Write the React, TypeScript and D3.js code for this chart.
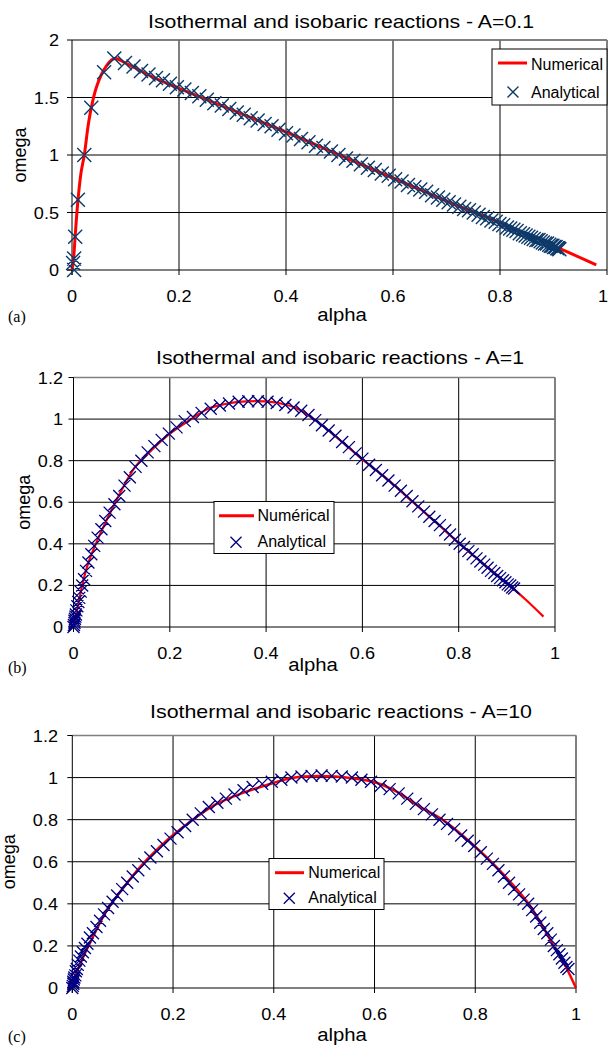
import React from "react";
import * as d3 from "d3";

type P = [number, number];

// ---------- tick values / labels ----------
const xTickValues = [0, 0.2, 0.4, 0.6, 0.8, 1];
const xTickLabels = ["0", "0.2", "0.4", "0.6", "0.8", "1"];
const yTickValuesA = [0, 0.5, 1, 1.5, 2];
const yTickLabelsA = ["0", "0.5", "1", "1.5", "2"];
const yTickValuesBC = [0, 0.2, 0.4, 0.6, 0.8, 1, 1.2];
const yTickLabelsBC = ["0", "0.2", "0.4", "0.6", "0.8", "1", "1.2"];

// ---------- panel (a) A=0.1 ----------
const numericalA: P[] = [
  [0, 0], [0.003, 0.1], [0.006, 0.3], [0.011, 0.6], [0.017, 0.85], [0.023, 1.0],
  [0.03, 1.25], [0.036, 1.41], [0.045, 1.58], [0.055, 1.7], [0.065, 1.78], [0.075, 1.83],
  [0.082, 1.84], [0.1, 1.8], [0.15, 1.68], [0.2, 1.58], [0.3, 1.39], [0.4, 1.2],
  [0.5, 1.0], [0.6, 0.8], [0.7, 0.6], [0.8, 0.41], [0.9, 0.21], [0.98, 0.045],
];
const analyticalA: P[] = [
  [0.004, 0.0], [0.002, 0.06], [0.004, 0.1], [0.006, 0.29], [0.011, 0.61], [0.023, 1.0],
  [0.036, 1.41], [0.06, 1.72], [0.079, 1.84],
  [0.099, 1.8], [0.115, 1.77], [0.129, 1.73], [0.143, 1.7], [0.157, 1.67], [0.17, 1.65],
  [0.183, 1.62], [0.196, 1.59], [0.21, 1.57], [0.224, 1.54], [0.238, 1.51], [0.252, 1.48],
  [0.266, 1.45], [0.28, 1.43], [0.294, 1.4], [0.308, 1.37], [0.321, 1.35], [0.334, 1.32],
  [0.347, 1.3], [0.36, 1.27], [0.373, 1.25], [0.386, 1.22], [0.4, 1.19],
  [0.414, 1.17], [0.428, 1.14], [0.442, 1.11], [0.456, 1.08], [0.47, 1.06], [0.484, 1.03],
  [0.498, 1.0], [0.512, 0.97], [0.526, 0.95], [0.54, 0.92], [0.553, 0.89], [0.566, 0.87],
  [0.579, 0.84], [0.592, 0.82], [0.604, 0.79],
  [0.616, 0.77], [0.628, 0.74], [0.64, 0.72], [0.651, 0.7], [0.662, 0.68], [0.673, 0.65],
  [0.684, 0.63], [0.694, 0.61], [0.704, 0.59], [0.714, 0.57], [0.724, 0.55], [0.733, 0.53],
  [0.742, 0.52], [0.751, 0.5], [0.76, 0.48], [0.768, 0.46], [0.776, 0.45], [0.784, 0.43],
  [0.792, 0.42], [0.799, 0.4],
  [0.806, 0.39], [0.813, 0.37], [0.819, 0.36], [0.825, 0.35], [0.831, 0.34], [0.837, 0.32],
  [0.843, 0.31], [0.848, 0.3], [0.853, 0.29], [0.858, 0.28], [0.863, 0.27], [0.868, 0.26],
  [0.872, 0.26], [0.876, 0.25], [0.88, 0.24], [0.884, 0.23], [0.888, 0.23], [0.892, 0.22],
  [0.895, 0.21], [0.898, 0.21], [0.901, 0.2], [0.904, 0.2], [0.907, 0.19], [0.909, 0.19],
  [0.911, 0.18],
];

// ---------- panel (b) A=1 ----------
const numericalB: P[] = [
  [0, 0], [0.005, 0.06], [0.01, 0.11], [0.02, 0.22], [0.031, 0.31], [0.052, 0.43],
  [0.086, 0.595], [0.128, 0.77], [0.155, 0.835], [0.2, 0.93], [0.238, 0.99], [0.28, 1.05],
  [0.328, 1.078], [0.36, 1.085], [0.397, 1.085], [0.428, 1.076], [0.463, 1.052], [0.505, 0.99],
  [0.553, 0.9], [0.598, 0.81], [0.65, 0.715], [0.705, 0.6], [0.754, 0.5], [0.802, 0.4],
  [0.843, 0.32], [0.9, 0.21], [0.94, 0.13], [0.976, 0.05],
];
const analyticalB: P[] = [
  [0, 0], [0.001, 0.01], [0.002, 0.02], [0.002, 0.03], [0.003, 0.04], [0.004, 0.05],
  [0.005, 0.06], [0.006, 0.08], [0.008, 0.1], [0.01, 0.12], [0.012, 0.14], [0.015, 0.17],
  [0.018, 0.2], [0.022, 0.23], [0.026, 0.27], [0.031, 0.31], [0.037, 0.35], [0.043, 0.39],
  [0.05, 0.43], [0.058, 0.47], [0.066, 0.51], [0.075, 0.55], [0.085, 0.59], [0.095, 0.63],
  [0.106, 0.68], [0.117, 0.72], [0.129, 0.77], [0.141, 0.8], [0.154, 0.84], [0.168, 0.87],
  [0.183, 0.9], [0.198, 0.93], [0.214, 0.96], [0.231, 0.99], [0.248, 1.01], [0.266, 1.03],
  [0.285, 1.05], [0.304, 1.065], [0.323, 1.075], [0.343, 1.083], [0.363, 1.086], [0.383, 1.086],
  [0.403, 1.083], [0.422, 1.077], [0.44, 1.068], [0.457, 1.056], [0.473, 1.04], [0.488, 1.02],
  [0.502, 0.995], [0.516, 0.97], [0.53, 0.945], [0.544, 0.92], [0.558, 0.89], [0.572, 0.865],
  [0.586, 0.835], [0.6, 0.81], [0.614, 0.78], [0.628, 0.755], [0.641, 0.73], [0.654, 0.705],
  [0.667, 0.68], [0.68, 0.655], [0.692, 0.63], [0.704, 0.605], [0.716, 0.58], [0.728, 0.555],
  [0.739, 0.53], [0.75, 0.51], [0.761, 0.49], [0.772, 0.465], [0.782, 0.445], [0.792, 0.42],
  [0.802, 0.4], [0.811, 0.385], [0.82, 0.365], [0.829, 0.35], [0.837, 0.33], [0.845, 0.315],
  [0.853, 0.3], [0.86, 0.285], [0.867, 0.27], [0.874, 0.26], [0.88, 0.245], [0.886, 0.235],
  [0.892, 0.225], [0.897, 0.215], [0.902, 0.205], [0.907, 0.2], [0.911, 0.19], [0.915, 0.185],
];

// ---------- panel (c) A=10 ----------
const numericalC: P[] = [
  [0, 0], [0.005, 0.05], [0.019, 0.133], [0.038, 0.228], [0.065, 0.355], [0.098, 0.466],
  [0.138, 0.584], [0.164, 0.648], [0.2, 0.727], [0.243, 0.806], [0.283, 0.87], [0.336, 0.925],
  [0.396, 0.972], [0.432, 0.996], [0.491, 1.007], [0.558, 0.996], [0.597, 0.98], [0.644, 0.933],
  [0.69, 0.861], [0.736, 0.798], [0.789, 0.695], [0.848, 0.56], [0.906, 0.4], [0.956, 0.2],
  [0.98, 0.1], [1.0, 0.0],
];
const analyticalC: P[] = [
  [0, 0], [0.001, 0.01], [0.002, 0.02], [0.002, 0.03], [0.003, 0.04], [0.004, 0.05],
  [0.006, 0.06], [0.007, 0.08], [0.009, 0.09], [0.011, 0.11], [0.014, 0.13], [0.017, 0.15],
  [0.021, 0.17], [0.025, 0.19], [0.03, 0.21], [0.035, 0.24], [0.041, 0.26], [0.048, 0.29],
  [0.055, 0.32], [0.063, 0.35], [0.071, 0.38], [0.08, 0.41], [0.089, 0.44], [0.099, 0.47],
  [0.109, 0.5], [0.12, 0.53], [0.131, 0.56], [0.143, 0.59], [0.155, 0.62], [0.168, 0.65],
  [0.181, 0.68], [0.195, 0.71], [0.209, 0.74], [0.224, 0.77], [0.239, 0.8], [0.255, 0.83],
  [0.271, 0.86], [0.288, 0.88], [0.305, 0.9], [0.322, 0.92], [0.34, 0.94], [0.358, 0.955],
  [0.377, 0.97], [0.396, 0.98], [0.415, 0.99], [0.435, 1.0], [0.455, 1.005], [0.475, 1.008],
  [0.495, 1.01], [0.515, 1.008], [0.535, 1.005], [0.555, 1.0], [0.574, 0.99], [0.593, 0.98],
  [0.612, 0.96], [0.63, 0.945], [0.648, 0.925], [0.665, 0.9], [0.682, 0.875], [0.698, 0.85],
  [0.714, 0.825], [0.729, 0.8], [0.744, 0.78], [0.758, 0.755], [0.772, 0.725], [0.785, 0.7],
  [0.798, 0.675], [0.811, 0.645], [0.823, 0.615], [0.835, 0.59], [0.846, 0.56], [0.857, 0.53],
  [0.867, 0.5], [0.877, 0.47], [0.887, 0.445], [0.896, 0.42], [0.905, 0.4], [0.913, 0.37],
  [0.921, 0.34], [0.929, 0.31], [0.936, 0.28], [0.943, 0.26], [0.95, 0.23], [0.956, 0.2],
  [0.962, 0.18], [0.967, 0.16], [0.972, 0.14], [0.977, 0.12], [0.981, 0.1], [0.985, 0.09],
];

const SANS = "'Liberation Sans', Arial, sans-serif";
const SERIF = "'Liberation Serif', 'Times New Roman', serif";
const SX = 1.13;

function T(props: any) {
  const { x, y, anchor = "start", size = 16, sx = SX, family = SANS, rotate = 0, len, children } = props;
  return (
    <text
      transform={`translate(${x},${y}) rotate(${rotate}) scale(${sx},1)`}
      textAnchor={anchor}
      fontSize={size}
      fontFamily={family}
      fill="#000"
      textLength={len}
      lengthAdjust={len ? "spacingAndGlyphs" : undefined}
    >
      {children}
    </text>
  );
}

function xMark(cx: number, cy: number, s: number) {
  return `M${cx - s},${cy - s}L${cx + s},${cy + s}M${cx - s},${cy + s}L${cx + s},${cy - s}`;
}

function Panel(props: any) {
  const c = props.cfg;
  const x = d3.scaleLinear().domain([0, 1]).range([c.x0, c.x1]);
  const y = d3.scaleLinear().domain([0, c.yMax]).range([c.yB, c.yT]);
  const line = d3
    .line<P>()
    .x((d) => x(d[0]))
    .y((d) => y(d[1]))
    .curve(d3.curveCatmullRom.alpha(0.5));
  const markPath = c.analytical.map((d: P) => xMark(x(d[0]), y(d[1]), c.ms)).join("");
  const lg = c.legend;
  return (
    <g>
      {/* grid */}
      {xTickValues.slice(1).map((v) => (
        <line key={"gx" + v} x1={x(v)} x2={x(v)} y1={c.yT} y2={c.yB} stroke="#000" strokeWidth={1} />
      ))}
      {c.yTicks.slice(1).map((v: number) => (
        <line key={"gy" + v} x1={c.x0} x2={c.x1} y1={y(v)} y2={y(v)} stroke="#000" strokeWidth={1} />
      ))}
      {/* border top/right */}
      <line x1={c.x0} x2={c.x1} y1={c.yT} y2={c.yT} stroke="#808080" strokeWidth={1.5} />
      <line x1={c.x1} x2={c.x1} y1={c.yT} y2={c.yB} stroke="#808080" strokeWidth={1.5} />
      {/* axes */}
      <line x1={c.x0} x2={c.x0} y1={c.yT} y2={c.yB + 5} stroke="#000" strokeWidth={1} />
      <line x1={c.x0 - 5} x2={c.x1} y1={c.yB} y2={c.yB} stroke="#000" strokeWidth={1} />
      {xTickValues.map((v) => (
        <line key={"tx" + v} x1={x(v)} x2={x(v)} y1={c.yB} y2={c.yB + 5} stroke="#000" />
      ))}
      {c.yTicks.map((v: number) => (
        <line key={"ty" + v} x1={c.x0 - 5} x2={c.x0} y1={y(v)} y2={y(v)} stroke="#000" />
      ))}
      {/* tick labels */}
      {xTickValues.map((v, i) => (
        <T key={"lx" + v} x={i === 5 ? Math.min(x(v), 603) : x(v)} y={c.yB + 32} anchor="middle" size={16}>
          {xTickLabels[i]}
        </T>
      ))}
      {c.yTicks.map((v: number, i: number) => (
        <T key={"ly" + v} x={c.yLabelX} y={y(v) + 6} anchor="end" size={16}>
          {c.yTickLabels[i]}
        </T>
      ))}
      {/* series */}
      <path d={line(c.numerical) || ""} fill="none" stroke="#ff0000" strokeWidth={c.lw} />
      <path d={markPath} fill="none" stroke={c.mc} strokeWidth={c.mw} />
      {/* legend */}
      <rect x={lg.x} y={lg.y} width={lg.w} height={lg.h} fill="#fff" stroke="#000" strokeWidth={1} />
      <line x1={lg.lx1} x2={lg.lx2} y1={lg.ly} y2={lg.ly} stroke="#ff0000" strokeWidth={3} />
      <text x={lg.tx} y={lg.t1} fontSize={16} fontFamily={SANS}>{c.numLabel}</text>
      <path d={xMark(lg.mx, lg.my, 5.5)} stroke={c.mc} strokeWidth={c.mw} fill="none" />
      <text x={lg.tx} y={lg.t2} fontSize={16} fontFamily={SANS}>Analytical</text>
      {/* titles */}
      <T x={c.titleX} y={c.titleY} anchor="middle" size={18.5} sx={1} len={c.titleLen}>
        {c.title}
      </T>
      <T x={c.alphaX} y={c.alphaY} anchor="middle" size={18}>alpha</T>
      <T x={c.omegaX} y={(c.yT + c.yB) / 2} anchor="middle" size={18} sx={1} rotate={-90}>omega</T>
      <T x={8} y={c.tagY} size={16} sx={1} family={SERIF}>{c.tag}</T>
    </g>
  );
}

const panels = [
  {
    x0: 72, x1: 607, yB: 270, yT: 40, yMax: 2,
    yTicks: yTickValuesA, yTickLabels: yTickLabelsA, yLabelX: 59,
    numerical: numericalA, analytical: analyticalA, mc: "#0b3a6a", ms: 7, mw: 1.4, lw: 3,
    numLabel: "Numerical",
    legend: { x: 492, y: 49, w: 115, h: 56, lx1: 498, lx2: 527, ly: 63, tx: 531, t1: 70, mx: 513, my: 92, t2: 98 },
    title: "Isothermal and isobaric reactions - A=0.1", titleX: 341, titleY: 28, titleLen: 386,
    alphaX: 342, alphaY: 321, omegaX: 26, tag: "(a)", tagY: 322,
  },
  {
    x0: 73.5, x1: 555, yB: 627, yT: 377.5, yMax: 1.2,
    yTicks: yTickValuesBC, yTickLabels: yTickLabelsBC, yLabelX: 63,
    numerical: numericalB, analytical: analyticalB, mc: "#000080", ms: 6, mw: 1.3, lw: 2.2,
    numLabel: "Numérical",
    legend: { x: 214, y: 501.5, w: 120, h: 52, lx1: 219, lx2: 254, ly: 515.7, tx: 257.5, t1: 521, mx: 236, my: 542.3, t2: 546.7 },
    title: "Isothermal and isobaric reactions - A=1", titleX: 340, titleY: 364, titleLen: 368,
    alphaX: 313, alphaY: 671, omegaX: 30, tag: "(b)", tagY: 673,
  },
  {
    x0: 72.3, x1: 576, yB: 988, yT: 735.5, yMax: 1.2,
    yTicks: yTickValuesBC, yTickLabels: yTickLabelsBC, yLabelX: 58,
    numerical: numericalC, analytical: analyticalC, mc: "#000080", ms: 6, mw: 1.3, lw: 2.5,
    numLabel: "Numerical",
    legend: { x: 269, y: 858.5, w: 115, h: 51, lx1: 275, lx2: 304, ly: 872.7, tx: 308.3, t1: 878, mx: 289.3, my: 898.3, t2: 903.3 },
    title: "Isothermal and isobaric reactions - A=10", titleX: 341, titleY: 718, titleLen: 382,
    alphaX: 342, alphaY: 1041, omegaX: 15, tag: "(c)", tagY: 1042,
  },
];

export default function App() {
  return (
    <svg
      width={610}
      height={1047}
      style={{ position: "absolute", left: 0, top: 0, background: "#fff" }}
    >
      <rect x={0} y={0} width={610} height={1047} fill="#fff" />
      {panels.map((p, i) => (
        <Panel key={i} cfg={p} />
      ))}
    </svg>
  );
}
